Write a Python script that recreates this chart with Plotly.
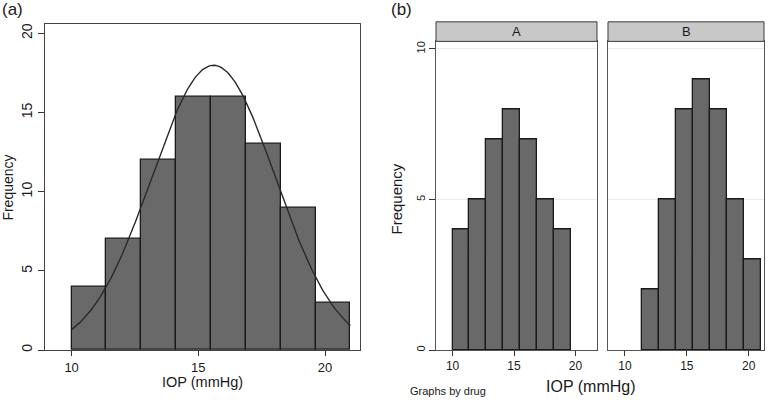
import numpy as np
import plotly.graph_objects as go

W, H = 771, 400

# ---- data ----
bin_start = 10.0
bin_width = 1.375
counts_all = [4, 7, 12, 16, 16, 13, 9, 3]
counts_A = [4, 5, 7, 8, 7, 5, 4, 0]
counts_B = [0, 2, 5, 8, 9, 8, 5, 3]
facet_labels = ["A", "B"]
normal_mean = 15.6
normal_sd = 2.44
n_total = 80
x_ticks = [10, 15, 20]
y_ticks_a = [0, 5, 10, 15, 20]
y_ticks_b = [0, 5, 10]

centers = [bin_start + bin_width * (i + 0.5) for i in range(len(counts_all))]

# fitted normal curve (scaled to frequency)
xc = np.linspace(bin_start, bin_start + bin_width * len(counts_all), 200)
yc = n_total * bin_width / (normal_sd * np.sqrt(2 * np.pi)) * np.exp(-0.5 * ((xc - normal_mean) / normal_sd) ** 2)


def px(x):
    return x / W


def py(y):
    return 1 - y / H


BAR = "#696969"
EDGE = "#1a1a1a"
TXT = "#1a1a1a"
FONT = "Liberation Sans, Arial, sans-serif"

fig = go.Figure()

bar_kw = dict(width=bin_width, marker=dict(color=BAR, line=dict(color=EDGE, width=1.3)), showlegend=False, hoverinfo="skip")

fig.add_trace(go.Bar(x=centers, y=counts_all, xaxis="x", yaxis="y", **bar_kw))
fig.add_trace(go.Scatter(x=xc, y=yc, mode="lines", line=dict(color="#2a2a2a", width=1.4), xaxis="x", yaxis="y", showlegend=False, hoverinfo="skip"))

cA = [c for c, v in zip(centers, counts_A) if v > 0]
vA = [v for v in counts_A if v > 0]
cB = [c for c, v in zip(centers, counts_B) if v > 0]
vB = [v for v in counts_B if v > 0]
fig.add_trace(go.Bar(x=cA, y=vA, xaxis="x2", yaxis="y2", **bar_kw))
fig.add_trace(go.Bar(x=cB, y=vB, xaxis="x3", yaxis="y3", **bar_kw))

ax_common = dict(showgrid=False, zeroline=False, showline=True, mirror=True,
                 ticks="outside", tickcolor="#333", color=TXT)

fig.update_layout(
    width=W, height=H, margin=dict(l=0, r=0, t=0, b=0),
    paper_bgcolor="white", plot_bgcolor="white",
    font=dict(family=FONT, color=TXT),
    bargap=0,
    xaxis=dict(domain=[px(45), px(360)], range=[8.95, 21.38], tickvals=x_ticks,
               linecolor="#444", linewidth=1, ticklen=5, tickfont=dict(size=13), **ax_common),
    yaxis=dict(domain=[py(351.7), py(23)], range=[0, 20.6], tickvals=y_ticks_a, tickangle=-90,
               linecolor="#444", linewidth=1, ticklen=6, tickfont=dict(size=14), anchor="x", **ax_common),
    xaxis2=dict(domain=[px(436), px(597)], range=[8.65, 21.75], tickvals=x_ticks, anchor="y2",
                linecolor="#555", linewidth=1, ticklen=5, tickfont=dict(size=12), **ax_common),
    yaxis2=dict(domain=[py(351.7), py(40.7)], range=[0, 10.25], tickvals=y_ticks_b, tickangle=-90, anchor="x2",
                linecolor="#555", linewidth=1, ticklen=6, tickfont=dict(size=11),
                showgrid=True, gridcolor="#ececec", gridwidth=1, zeroline=False, showline=True, mirror=True,
                ticks="outside", tickcolor="#333", color=TXT),
    xaxis3=dict(domain=[px(608), px(764)], range=[8.63, 21.24], tickvals=x_ticks, anchor="y3",
                linecolor="#555", linewidth=1, ticklen=5, tickfont=dict(size=12), **ax_common),
    yaxis3=dict(domain=[py(351.7), py(40.7)], range=[0, 10.25], tickvals=y_ticks_b, anchor="x3",
                showticklabels=False, ticks="", showgrid=True, gridcolor="#ececec", gridwidth=1,
                zeroline=False, showline=True, mirror=True, linecolor="#555", linewidth=1),
)

# facet strips
for (x0, x1), lab in zip([(436, 597), (608, 764)], facet_labels):
    fig.add_shape(type="rect", xref="paper", yref="paper", x0=px(x0), x1=px(x1), y0=py(40.7), y1=py(21),
                  fillcolor="#c8c8c8", line=dict(color="#3a3a3a", width=1), layer="above")
    fig.add_annotation(x=px((x0 + x1) / 2), y=py(30.5), xref="paper", yref="paper", text=lab,
                       showarrow=False, font=dict(size=13, color=TXT), xanchor="center", yanchor="middle")

ann = [
    dict(text="(a)", x=px(0), y=py(9), xanchor="left", size=17, angle=0),
    dict(text="(b)", x=px(389), y=py(9), xanchor="left", size=17, angle=0),
    dict(text="Frequency", x=px(8), y=py(188), xanchor="center", size=14, angle=-90),
    dict(text="Frequency", x=px(397), y=py(199), xanchor="center", size=15, angle=-90),
    dict(text="IOP (mmHg)", x=px(202), y=py(383.5), xanchor="center", size=14.5, angle=0),
    dict(text="IOP (mmHg)", x=px(590), y=py(388), xanchor="center", size=16, angle=0),
    dict(text="Graphs by drug", x=px(408), y=py(393), xanchor="left", size=11, angle=0),
]
for a in ann:
    fig.add_annotation(x=a["x"], y=a["y"], xref="paper", yref="paper", text=a["text"], showarrow=False,
                       xanchor=a["xanchor"], yanchor="middle", textangle=a["angle"],
                       font=dict(size=a["size"], color=TXT, family=FONT))

fig.write_html("out.html", config={"displayModeBar": False},
               post_script="document.body.style.margin='0';document.body.style.overflow='hidden';")
